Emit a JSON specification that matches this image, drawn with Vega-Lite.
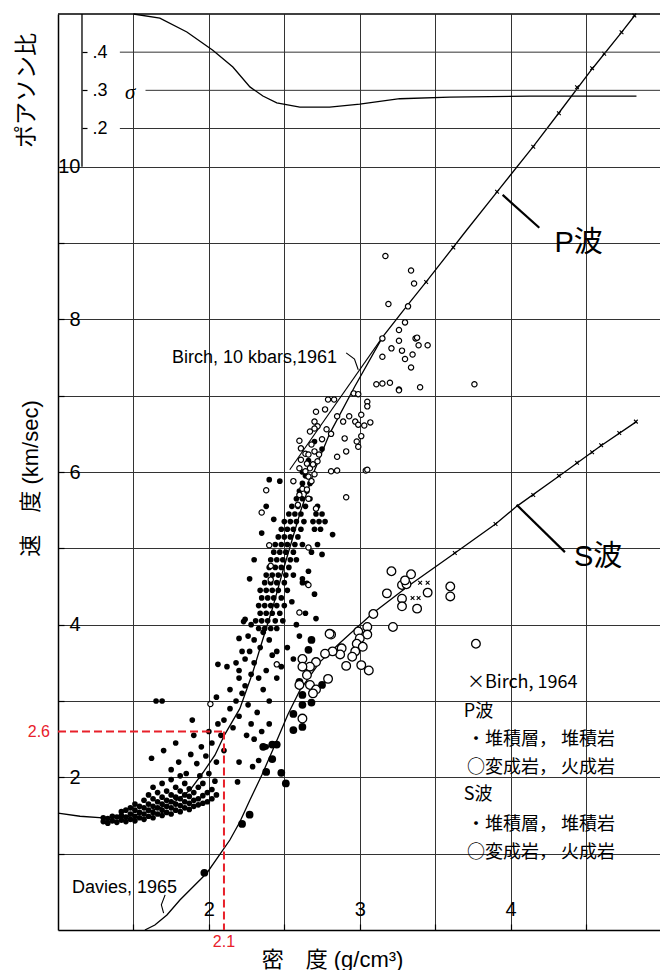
{
"$schema":"https://vega.github.io/schema/vega-lite/v6.json",
"width":602,"height":916,
"autosize":{"type":"none"},
"padding":{"left":58,"top":14,"right":0,"bottom":40},
"background":"white",
"config":{"view":{"stroke":null},"font":"Liberation Sans"},
"datasets":{
"pcurve":[{"d":1.0,"v":1.53},{"d":1.146,"v":1.49},{"d":1.298,"v":1.47},{"d":1.444,"v":1.48},{"d":1.563,"v":1.53},{"d":1.675,"v":1.6},{"d":1.788,"v":1.7},{"d":1.874,"v":1.83},{"d":1.96,"v":2.06},{"d":2.04,"v":2.29},{"d":2.105,"v":2.56},{"d":2.205,"v":2.9},{"d":2.29,"v":3.37},{"d":2.35,"v":3.76},{"d":2.424,"v":4.23},{"d":2.49,"v":4.7},{"d":2.55,"v":5.1},{"d":2.61,"v":5.5},{"d":2.7,"v":6.02},{"d":2.8,"v":6.5},{"d":2.967,"v":7.12},{"d":3.152,"v":7.77},{"d":3.318,"v":8.19},{"d":3.444,"v":8.5},{"d":3.709,"v":9.17},{"d":3.914,"v":9.68},{"d":4.152,"v":10.27},{"d":4.318,"v":10.7},{"d":4.536,"v":11.27},{"d":4.735,"v":11.76},{"d":4.83,"v":12.0}],
"scurve":[{"d":1.576,"v":0.0},{"d":1.642,"v":0.066},{"d":1.722,"v":0.197},{"d":1.808,"v":0.393},{"d":1.894,"v":0.563},{"d":1.987,"v":0.747},{"d":2.06,"v":0.956},{"d":2.139,"v":1.179},{"d":2.205,"v":1.415},{"d":2.272,"v":1.703},{"d":2.351,"v":2.03},{"d":2.437,"v":2.42},{"d":2.523,"v":2.82},{"d":2.603,"v":3.14},{"d":2.735,"v":3.51},{"d":2.868,"v":3.76},{"d":3.086,"v":4.15},{"d":3.331,"v":4.52},{"d":3.596,"v":4.89},{"d":3.9,"v":5.32},{"d":4.04,"v":5.55},{"d":4.324,"v":5.95},{"d":4.589,"v":6.33},{"d":4.834,"v":6.66}],
"birch61":[{"d":2.536,"v":6.03},{"d":3.152,"v":7.77}],
"border":[{"v":12}],
"ps":[{"d":1.30,"v":1.42},{"d":1.30,"v":1.47},{"d":1.33,"v":1.40},{"d":1.33,"v":1.46},{"d":1.36,"v":1.43},{"d":1.36,"v":1.49},{"d":1.39,"v":1.41},{"d":1.39,"v":1.48},{"d":1.42,"v":1.44},{"d":1.42,"v":1.50},{"d":1.42,"v":1.55},{"d":1.45,"v":1.42},{"d":1.45,"v":1.48},{"d":1.45,"v":1.57},{"d":1.48,"v":1.45},{"d":1.48,"v":1.52},{"d":1.48,"v":1.60},{"d":1.51,"v":1.43},{"d":1.51,"v":1.49},{"d":1.51,"v":1.57},{"d":1.51,"v":1.65},{"d":1.54,"v":1.47},{"d":1.54,"v":1.54},{"d":1.54,"v":1.62},{"d":1.57,"v":1.45},{"d":1.57,"v":1.52},{"d":1.57,"v":1.60},{"d":1.57,"v":1.70},{"d":1.60,"v":1.49},{"d":1.60,"v":1.57},{"d":1.60,"v":1.65},{"d":1.60,"v":1.77},{"d":1.63,"v":1.47},{"d":1.63,"v":1.54},{"d":1.63,"v":1.62},{"d":1.63,"v":1.72},{"d":1.63,"v":1.87},{"d":1.66,"v":1.52},{"d":1.66,"v":1.60},{"d":1.66,"v":1.68},{"d":1.66,"v":1.80},{"d":1.69,"v":1.50},{"d":1.69,"v":1.57},{"d":1.69,"v":1.65},{"d":1.69,"v":1.74},{"d":1.69,"v":1.92},{"d":1.72,"v":1.54},{"d":1.72,"v":1.62},{"d":1.72,"v":1.70},{"d":1.72,"v":1.82},{"d":1.75,"v":1.52},{"d":1.75,"v":1.60},{"d":1.75,"v":1.68},{"d":1.75,"v":1.77},{"d":1.75,"v":1.97},{"d":1.78,"v":1.57},{"d":1.78,"v":1.65},{"d":1.78,"v":1.74},{"d":1.78,"v":1.87},{"d":1.81,"v":1.55},{"d":1.81,"v":1.63},{"d":1.81,"v":1.72},{"d":1.81,"v":1.82},{"d":1.81,"v":2.02},{"d":1.84,"v":1.60},{"d":1.84,"v":1.68},{"d":1.84,"v":1.77},{"d":1.84,"v":1.92},{"d":1.87,"v":1.58},{"d":1.87,"v":1.66},{"d":1.87,"v":1.75},{"d":1.87,"v":1.85},{"d":1.90,"v":1.62},{"d":1.90,"v":1.70},{"d":1.90,"v":1.80},{"d":1.93,"v":1.64},{"d":1.93,"v":1.72},{"d":1.93,"v":1.87},{"d":1.96,"v":1.66},{"d":1.96,"v":1.76},{"d":1.96,"v":1.92},{"d":1.99,"v":1.68},{"d":1.99,"v":1.80},{"d":2.02,"v":1.72},{"d":2.02,"v":1.84},{"d":2.05,"v":1.77},
{"d":1.75,"v":2.10},{"d":1.80,"v":2.20},{"d":1.85,"v":2.05},{"d":1.88,"v":2.30},{"d":1.92,"v":2.18},{"d":1.95,"v":2.40},{"d":1.98,"v":2.28},{"d":2.02,"v":2.45},{"d":2.05,"v":2.20},{"d":2.08,"v":2.55},{"d":2.10,"v":2.35},{"d":2.00,"v":2.60},{"d":2.06,"v":2.70},{"d":1.70,"v":2.35},{"d":1.62,"v":2.25},{"d":1.78,"v":2.45},{"d":1.90,"v":2.55},{"d":2.00,"v":2.05},{"d":2.04,"v":1.95},{"d":1.94,"v":2.02},
{"d":2.10,"v":2.75},{"d":2.14,"v":2.90},{"d":2.16,"v":2.65},{"d":2.18,"v":3.00},{"d":2.20,"v":2.80},{"d":2.22,"v":3.10},{"d":2.25,"v":2.55},{"d":2.26,"v":2.95},{"d":2.28,"v":2.70},{"d":2.30,"v":2.50},{"d":2.32,"v":2.85},{"d":2.35,"v":2.60},{"d":2.24,"v":3.20},{"d":2.20,"v":3.30},{"d":2.28,"v":3.35},{"d":2.14,"v":3.15},{"d":2.12,"v":3.45},{"d":2.05,"v":3.05},{"d":1.65,"v":3.00},{"d":1.69,"v":3.00},{"d":1.89,"v":2.75},{"d":2.38,"v":2.40},{"d":2.33,"v":2.22},{"d":2.40,"v":2.70},{"d":2.20,"v":2.20},{"d":2.29,"v":2.14},{"d":2.19,"v":1.94},
{"d":2.20,"v":3.40},{"d":2.24,"v":3.55},{"d":2.27,"v":3.65},{"d":2.30,"v":3.50},{"d":2.33,"v":3.30},{"d":2.36,"v":3.15},{"d":2.38,"v":3.40},{"d":2.40,"v":3.00},{"d":2.42,"v":3.60},{"d":2.30,"v":3.80},{"d":2.34,"v":3.70},{"d":2.26,"v":3.85},{"d":2.22,"v":3.65},{"d":2.18,"v":3.50},{"d":2.45,"v":3.30},{"d":2.48,"v":3.45},{"d":2.36,"v":3.90},{"d":2.40,"v":3.80},{"d":2.28,"v":4.00},{"d":2.06,"v":3.48},{"d":2.23,"v":4.04},{"d":2.20,"v":3.82},{"d":2.45,"v":3.65},
{"d":2.33,"v":3.95},{"d":2.37,"v":3.95},{"d":2.41,"v":3.95},{"d":2.45,"v":3.95},{"d":2.31,"v":4.05},{"d":2.35,"v":4.05},{"d":2.39,"v":4.05},{"d":2.44,"v":4.05},{"d":2.49,"v":4.05},{"d":2.34,"v":4.15},{"d":2.38,"v":4.15},{"d":2.42,"v":4.15},{"d":2.47,"v":4.15},{"d":2.33,"v":4.25},{"d":2.37,"v":4.25},{"d":2.41,"v":4.25},{"d":2.45,"v":4.25},{"d":2.50,"v":4.25},{"d":2.35,"v":4.35},{"d":2.39,"v":4.35},{"d":2.43,"v":4.35},{"d":2.48,"v":4.35},{"d":2.34,"v":4.45},{"d":2.38,"v":4.45},{"d":2.42,"v":4.45},{"d":2.46,"v":4.45},{"d":2.52,"v":4.45},{"d":2.37,"v":4.55},{"d":2.41,"v":4.55},{"d":2.45,"v":4.55},{"d":2.50,"v":4.55},{"d":2.38,"v":4.65},{"d":2.42,"v":4.65},{"d":2.46,"v":4.65},{"d":2.51,"v":4.65},{"d":2.56,"v":4.65},{"d":2.40,"v":4.75},{"d":2.44,"v":4.75},{"d":2.48,"v":4.75},{"d":2.53,"v":4.75},{"d":2.41,"v":4.85},{"d":2.45,"v":4.85},{"d":2.49,"v":4.85},{"d":2.54,"v":4.85},{"d":2.58,"v":4.85},{"d":2.43,"v":4.95},{"d":2.47,"v":4.95},{"d":2.51,"v":4.95},{"d":2.56,"v":4.95},{"d":2.44,"v":5.05},{"d":2.48,"v":5.05},{"d":2.52,"v":5.05},{"d":2.57,"v":5.05},{"d":2.62,"v":5.05},{"d":2.46,"v":5.15},{"d":2.50,"v":5.15},{"d":2.54,"v":5.15},{"d":2.59,"v":5.15},{"d":2.48,"v":5.25},{"d":2.52,"v":5.25},{"d":2.56,"v":5.25},{"d":2.61,"v":5.25},{"d":2.70,"v":5.25},{"d":2.74,"v":5.25},{"d":2.50,"v":5.35},{"d":2.54,"v":5.35},{"d":2.58,"v":5.35},{"d":2.63,"v":5.35},{"d":2.69,"v":5.35},{"d":2.73,"v":5.35},{"d":2.77,"v":5.35},{"d":2.53,"v":5.45},{"d":2.57,"v":5.45},{"d":2.61,"v":5.45},{"d":2.71,"v":5.45},{"d":2.75,"v":5.45},{"d":2.55,"v":5.55},{"d":2.59,"v":5.55},{"d":2.64,"v":5.55},{"d":2.72,"v":5.55},{"d":2.58,"v":5.65},{"d":2.62,"v":5.65},{"d":2.67,"v":5.65},{"d":2.60,"v":5.75},{"d":2.65,"v":5.75},{"d":2.62,"v":5.85},{"d":2.67,"v":5.85},{"d":2.64,"v":5.95},
{"d":2.24,"v":4.07},{"d":2.27,"v":4.60},{"d":2.30,"v":4.85},{"d":2.55,"v":4.30},{"d":2.58,"v":4.00},{"d":2.62,"v":4.55},{"d":2.66,"v":4.70},{"d":2.70,"v":4.40},{"d":2.60,"v":3.85},{"d":2.82,"v":5.18},{"d":2.75,"v":4.92},{"d":2.52,"v":3.70},{"d":2.56,"v":3.55},{"d":2.35,"v":5.20},{"d":2.38,"v":5.55},{"d":2.40,"v":5.90},{"d":2.68,"v":4.95},{"d":2.72,"v":5.05},{"d":2.64,"v":4.15},{"d":2.47,"v":5.88},{"d":2.43,"v":5.38},{"d":2.71,"v":4.08},{"d":2.65,"v":4.54},{"d":2.62,"v":4.60},{"d":2.62,"v":6.00},{"d":2.66,"v":6.15},{"d":2.70,"v":6.40},{"d":2.75,"v":6.30}],
"pi":[{"d":3.17,"v":8.83},{"d":3.34,"v":8.64},{"d":3.36,"v":8.47},{"d":3.19,"v":8.20},{"d":3.32,"v":8.17},{"d":3.30,"v":7.96},{"d":3.26,"v":7.86},{"d":3.37,"v":7.75},{"d":3.26,"v":7.72},{"d":3.15,"v":7.75},{"d":3.39,"v":7.66},{"d":3.45,"v":7.66},{"d":3.21,"v":7.62},{"d":3.28,"v":7.59},{"d":3.35,"v":7.54},{"d":3.15,"v":7.51},{"d":3.30,"v":7.48},{"d":3.34,"v":7.37},{"d":3.11,"v":7.15},{"d":3.15,"v":7.16},{"d":3.20,"v":7.17},{"d":3.26,"v":7.08},{"d":3.40,"v":7.11},{"d":2.96,"v":7.03},{"d":2.99,"v":7.02},{"d":2.79,"v":6.95},{"d":2.83,"v":6.95},{"d":2.77,"v":6.82},{"d":3.05,"v":6.92},{"d":3.05,"v":6.86},{"d":2.93,"v":6.73},{"d":2.85,"v":6.73},{"d":3.01,"v":6.75},{"d":2.97,"v":6.66},{"d":2.99,"v":6.62},{"d":3.03,"v":6.61},{"d":3.07,"v":6.65},{"d":2.89,"v":6.66},{"d":2.71,"v":6.79},{"d":2.70,"v":6.66},{"d":2.72,"v":6.60},{"d":2.67,"v":6.53},{"d":2.70,"v":6.57},{"d":2.78,"v":6.56},{"d":2.81,"v":6.50},{"d":2.75,"v":6.43},{"d":3.01,"v":6.47},{"d":2.98,"v":6.40},{"d":2.99,"v":6.33},{"d":2.90,"v":6.44},{"d":2.91,"v":6.27},{"d":2.85,"v":6.20},{"d":2.60,"v":6.41},{"d":2.61,"v":6.31},{"d":2.64,"v":6.24},{"d":2.66,"v":6.23},{"d":2.68,"v":6.36},{"d":2.70,"v":6.27},{"d":2.73,"v":6.23},{"d":2.61,"v":6.16},{"d":2.65,"v":6.11},{"d":2.67,"v":6.05},{"d":2.69,"v":6.10},{"d":2.72,"v":6.14},{"d":2.60,"v":6.05},{"d":2.64,"v":6.01},{"d":2.66,"v":5.94},{"d":2.68,"v":5.88},{"d":2.70,"v":5.97},{"d":2.81,"v":6.01},{"d":2.85,"v":6.02},{"d":3.04,"v":6.02},{"d":2.56,"v":5.88},{"d":2.62,"v":5.78},{"d":2.60,"v":5.70},{"d":2.65,"v":5.77},{"d":2.66,"v":5.65},{"d":2.38,"v":5.76},{"d":2.91,"v":5.67},{"d":2.71,"v":5.52},{"d":2.59,"v":5.57},{"d":2.35,"v":5.47},{"d":2.40,"v":5.04},{"d":2.41,"v":4.77},{"d":2.41,"v":4.59},{"d":2.66,"v":4.52},{"d":2.45,"v":3.48},{"d":2.01,"v":2.96},{"d":2.60,"v":4.16},{"d":2.66,"v":5.01},{"d":3.38,"v":7.76},{"d":3.26,"v":7.07},{"d":3.76,"v":7.15},{"d":3.05,"v":6.03}],
"ss":[{"d":2.68,"v":3.80},{"d":2.66,"v":3.67},{"d":2.75,"v":3.21},{"d":2.62,"v":3.08},{"d":2.68,"v":2.98},{"d":2.56,"v":2.83},{"d":2.56,"v":2.62},{"d":2.62,"v":2.66},{"d":2.36,"v":2.40},{"d":2.42,"v":2.43},{"d":2.45,"v":2.43},{"d":2.42,"v":2.24},{"d":2.38,"v":2.07},{"d":2.48,"v":2.06},{"d":2.51,"v":1.92},{"d":2.27,"v":1.51},{"d":2.22,"v":1.39},{"d":2.60,"v":3.25},{"d":2.62,"v":2.95},{"d":1.97,"v":0.75}],
"si":[{"d":3.21,"v":4.70},{"d":3.18,"v":4.41},{"d":3.34,"v":4.66},{"d":3.28,"v":4.52},{"d":3.31,"v":4.53},{"d":3.28,"v":4.34},{"d":3.28,"v":4.24},{"d":3.38,"v":4.21},{"d":3.45,"v":4.42},{"d":3.22,"v":3.97},{"d":3.09,"v":4.14},{"d":3.05,"v":3.97},{"d":3.05,"v":3.87},{"d":2.99,"v":3.91},{"d":3.00,"v":3.82},{"d":2.98,"v":3.75},{"d":3.02,"v":3.71},{"d":2.97,"v":3.65},{"d":2.95,"v":3.58},{"d":2.91,"v":3.46},{"d":3.01,"v":3.47},{"d":3.06,"v":3.40},{"d":2.79,"v":3.29},{"d":2.81,"v":3.87},{"d":2.88,"v":3.69},{"d":2.87,"v":3.61},{"d":2.82,"v":3.65},{"d":2.77,"v":3.62},{"d":2.71,"v":3.51},{"d":2.67,"v":3.45},{"d":2.62,"v":3.55},{"d":2.62,"v":3.45},{"d":2.65,"v":3.34},{"d":2.67,"v":3.21},{"d":2.71,"v":3.15},{"d":2.69,"v":3.10},{"d":2.62,"v":2.77},{"d":2.60,"v":3.21},{"d":3.60,"v":4.50},{"d":3.60,"v":4.37},{"d":3.77,"v":3.75},{"d":2.80,"v":3.88},{"d":3.30,"v":4.58}],
"b64":[{"d":4.82,"v":11.98},{"d":4.735,"v":11.76},{"d":4.62,"v":11.48},{"d":4.54,"v":11.29},{"d":4.44,"v":11.04},{"d":4.32,"v":10.70},{"d":4.15,"v":10.26},{"d":3.91,"v":9.67},{"d":3.62,"v":8.94},{"d":3.44,"v":8.49},{"d":4.83,"v":6.66},{"d":4.72,"v":6.51},{"d":4.60,"v":6.35},{"d":4.54,"v":6.26},{"d":4.44,"v":6.12},{"d":4.32,"v":5.95},{"d":4.15,"v":5.70},{"d":3.90,"v":5.32},{"d":3.63,"v":4.94},{"d":3.40,"v":4.55},{"d":3.45,"v":4.55},{"d":3.35,"v":4.35},{"d":3.39,"v":4.35}],
"leaders":[{"id":"P","i":0,"d":3.947,"v":9.63},{"id":"P","i":1,"d":4.19,"v":9.2},{"id":"S","i":0,"d":4.04,"v":5.57},{"id":"S","i":1,"d":4.36,"v":4.95}],
"arrows":[{"id":"B","i":0,"d":2.91,"v":7.56},{"id":"B","i":1,"d":2.965,"v":7.48},{"id":"B","i":2,"d":2.99,"v":7.34},{"id":"D","i":0,"d":1.71,"v":0.46},{"id":"D","i":1,"d":1.685,"v":0.33},{"id":"D","i":2,"d":1.70,"v":0.22}],
"red":[{"d":1.0,"d2":2.1,"v":2.6,"v2":2.6},{"d":2.1,"d2":2.1,"v":2.6,"v2":0}],
"ann":[{"d":1.755,"v":7.43,"t":"Birch, 10 kbars,1961"},{"d":1.093,"v":0.485,"t":"Davies, 1965"}],
"big":[{"d":4.29,"v":8.88,"t":"P波"},{"d":4.42,"v":4.77,"t":"S波"}],
"leg":[{"d":3.71,"v":3.236,"t":"×Birch, 1964"},{"d":3.69,"v":2.856,"t":"P波"},{"d":3.71,"v":2.489,"t":"・堆積層， 堆積岩"},{"d":3.71,"v":2.122,"t":"○変成岩， 火成岩"},{"d":3.69,"v":1.769,"t":"S波"},{"d":3.71,"v":1.376,"t":"・堆積層， 堆積岩"},{"d":3.71,"v":1.009,"t":"○変成岩， 火成岩"}],
"redy":[{"d":0.947,"v":2.6,"t":"2.6"}],
"redx":[{"d":2.1,"v":-0.16,"t":"2.1"}],
"sig":[{"d":1.5,"s":0.5},{"d":1.675,"s":0.489},{"d":1.854,"s":0.453},{"d":2.026,"s":0.405},{"d":2.159,"s":0.361},{"d":2.272,"s":0.309},{"d":2.358,"s":0.285},{"d":2.45,"s":0.267},{"d":2.603,"s":0.256},{"d":2.8,"s":0.256},{"d":3.0,"s":0.264},{"d":3.265,"s":0.278},{"d":3.596,"s":0.282},{"d":4.126,"s":0.285},{"d":4.834,"s":0.285}],
"sgrid":[{"s":0.4,"x0":1.41},{"s":0.3,"x0":1.58},{"s":0.2,"x0":1.41}],
"sborder":[{"d":1.159,"s0":0.1,"s1":0.5}],
"sigtext":[{"d":1.444,"s":0.293,"t":"σ"}]
},
"layer":[
{"layer":[
 {"data":{"name":"pcurve"},"mark":{"type":"line","color":"black","strokeWidth":1.3},
  "encoding":{
   "x":{"field":"d","type":"quantitative","scale":{"domain":[1,4.99],"nice":false,"zero":false},
     "axis":{"title":"密　度 (g/cm³)","values":[1.5,2,2.5,3,3.5,4,4.5],"labelExpr":"datum.value % 1 === 0 ? '' + datum.value : ''","grid":true,"gridColor":"#333333","gridWidth":1,"domainColor":"black","domainWidth":1.5,"tickColor":"black","tickSize":-6,"tickWidth":1.2,"labelPadding":-9,"labelBaseline":"alphabetic","labelFontSize":20,"labelFont":"Liberation Sans","labelColor":"black","labelFlush":false,"labelOverlap":false,"titleFont":"Liberation Sans, Noto Sans CJK JP","titleFontSize":22,"titleFontWeight":"normal","titleColor":"black","titleX":274,"titleY":29,"titleBaseline":"middle","titleAlign":"center"}},
   "y":{"field":"v","type":"quantitative","scale":{"domain":[0,12],"nice":false,"zero":false},
     "axis":{"title":"速　度 (km/sec)","values":[1,2,3,4,5,6,7,8,9,10],"labelExpr":"datum.value % 2 === 0 ? '' + datum.value : ''","grid":true,"gridColor":"#333333","gridWidth":1,"domainColor":"black","domainWidth":1.5,"tickColor":"black","tickSize":-6,"tickWidth":1.2,"labelPadding":-16,"labelAlign":"right","labelBaseline":"middle","labelFontSize":20,"labelFont":"Liberation Sans","labelColor":"black","labelFlush":false,"labelOverlap":false,"titleFont":"Liberation Sans, Noto Sans CJK JP","titleFontSize":22,"titleFontWeight":"normal","titleColor":"black","titleX":-28,"titleY":464,"titleAngle":270,"titleAlign":"center","titleBaseline":"middle"}}}},
 {"data":{"name":"border"},"mark":{"type":"rule","color":"black","strokeWidth":1.5},"encoding":{"y":{"field":"v","type":"quantitative"}}},
 {"data":{"name":"scurve"},"mark":{"type":"line","color":"black","strokeWidth":1.3},"encoding":{"x":{"field":"d","type":"quantitative"},"y":{"field":"v","type":"quantitative"}}},
 {"data":{"name":"birch61"},"mark":{"type":"line","color":"black","strokeWidth":1.1},"encoding":{"x":{"field":"d","type":"quantitative"},"y":{"field":"v","type":"quantitative"}}},
 {"data":{"name":"ps"},"mark":{"type":"circle","size":32,"color":"black","opacity":1},"encoding":{"x":{"field":"d","type":"quantitative"},"y":{"field":"v","type":"quantitative"}}},
 {"data":{"name":"pi"},"mark":{"type":"point","shape":"circle","filled":false,"size":28,"stroke":"black","strokeWidth":1.2,"opacity":1,"fill":"white","fillOpacity":1},"encoding":{"x":{"field":"d","type":"quantitative"},"y":{"field":"v","type":"quantitative"}}},
 {"data":{"name":"ss"},"mark":{"type":"circle","size":60,"color":"black","opacity":1},"encoding":{"x":{"field":"d","type":"quantitative"},"y":{"field":"v","type":"quantitative"}}},
 {"data":{"name":"si"},"mark":{"type":"point","shape":"circle","filled":false,"size":75,"stroke":"black","strokeWidth":1.3,"opacity":1,"fill":"white","fillOpacity":1},"encoding":{"x":{"field":"d","type":"quantitative"},"y":{"field":"v","type":"quantitative"}}},
 {"data":{"name":"b64"},"mark":{"type":"point","shape":"M-1,-1L1,1M-1,1L1,-1","filled":false,"size":14,"stroke":"black","strokeWidth":1.1,"opacity":1},"encoding":{"x":{"field":"d","type":"quantitative"},"y":{"field":"v","type":"quantitative"}}},
 {"data":{"name":"leaders"},"mark":{"type":"line","color":"black","strokeWidth":2.2},"encoding":{"x":{"field":"d","type":"quantitative"},"y":{"field":"v","type":"quantitative"},"detail":{"field":"id"},"order":{"field":"i"}}},
 {"data":{"name":"arrows"},"mark":{"type":"line","color":"black","strokeWidth":1.1},"encoding":{"x":{"field":"d","type":"quantitative"},"y":{"field":"v","type":"quantitative"},"detail":{"field":"id"},"order":{"field":"i"}}},
 {"data":{"name":"red"},"mark":{"type":"rule","color":"#e8202a","strokeWidth":2,"strokeDash":[8,4]},"encoding":{"x":{"field":"d","type":"quantitative"},"x2":{"field":"d2"},"y":{"field":"v","type":"quantitative"},"y2":{"field":"v2"}}},
 {"data":{"name":"ann"},"mark":{"type":"text","font":"Liberation Sans","fontSize":18,"align":"left","baseline":"alphabetic","color":"black"},"encoding":{"x":{"field":"d","type":"quantitative"},"y":{"field":"v","type":"quantitative"},"text":{"field":"t"}}},
 {"data":{"name":"big"},"mark":{"type":"text","font":"Liberation Sans, Noto Sans CJK JP","fontSize":29,"align":"left","baseline":"alphabetic","color":"black"},"encoding":{"x":{"field":"d","type":"quantitative"},"y":{"field":"v","type":"quantitative"},"text":{"field":"t"}}},
 {"data":{"name":"leg"},"mark":{"type":"text","font":"Noto Sans CJK JP","fontSize":18,"align":"left","baseline":"middle","color":"black"},"encoding":{"x":{"field":"d","type":"quantitative"},"y":{"field":"v","type":"quantitative"},"text":{"field":"t"}}},
 {"data":{"name":"redy"},"mark":{"type":"text","font":"Liberation Sans","fontSize":16,"align":"right","baseline":"middle","color":"#e8202a"},"encoding":{"x":{"field":"d","type":"quantitative"},"y":{"field":"v","type":"quantitative"},"text":{"field":"t"}}},
 {"data":{"name":"redx"},"mark":{"type":"text","font":"Liberation Sans","fontSize":16,"align":"center","baseline":"middle","color":"#e8202a"},"encoding":{"x":{"field":"d","type":"quantitative"},"y":{"field":"v","type":"quantitative"},"text":{"field":"t"}}}
]},
{"layer":[
 {"data":{"name":"sgrid"},"mark":{"type":"rule","color":"#333333","strokeWidth":1},
  "encoding":{"x":{"field":"x0","type":"quantitative"},"x2":{"datum":4.99},
   "y":{"field":"s","type":"quantitative","scale":{"domain":[-1.9,0.5],"nice":false,"zero":false},
    "axis":{"orient":"left","offset":-24,"title":"ポアソン比","values":[0.2,0.3,0.4],"labelExpr":"replace(format(datum.value,'.1f'),'0.','.')","grid":false,"domain":false,"tickColor":"black","tickSize":-5,"tickWidth":1.2,"labelPadding":-5,"labelAlign":"left","labelBaseline":"middle","labelFontSize":18,"labelFont":"Liberation Sans","labelColor":"black","labelFlush":false,"labelOverlap":false,"titleFont":"Noto Sans CJK JP","titleFontSize":23,"titleFontWeight":"normal","titleColor":"black","titleX":-56,"titleY":76,"titleAngle":270,"titleAlign":"center","titleBaseline":"middle"}}}},
 {"data":{"name":"sig"},"mark":{"type":"line","color":"black","strokeWidth":1.3},"encoding":{"x":{"field":"d","type":"quantitative"},"y":{"field":"s","type":"quantitative"}}},
 {"data":{"name":"sborder"},"mark":{"type":"rule","color":"black","strokeWidth":1.3},"encoding":{"x":{"field":"d","type":"quantitative"},"y":{"field":"s0","type":"quantitative"},"y2":{"field":"s1"}}},
 {"data":{"name":"sigtext"},"mark":{"type":"text","font":"Liberation Serif","fontStyle":"italic","fontSize":21,"align":"left","baseline":"middle","color":"black"},"encoding":{"x":{"field":"d","type":"quantitative"},"y":{"field":"s","type":"quantitative"},"text":{"field":"t"}}}
]}
],
"resolve":{"scale":{"y":"independent"}}
}
